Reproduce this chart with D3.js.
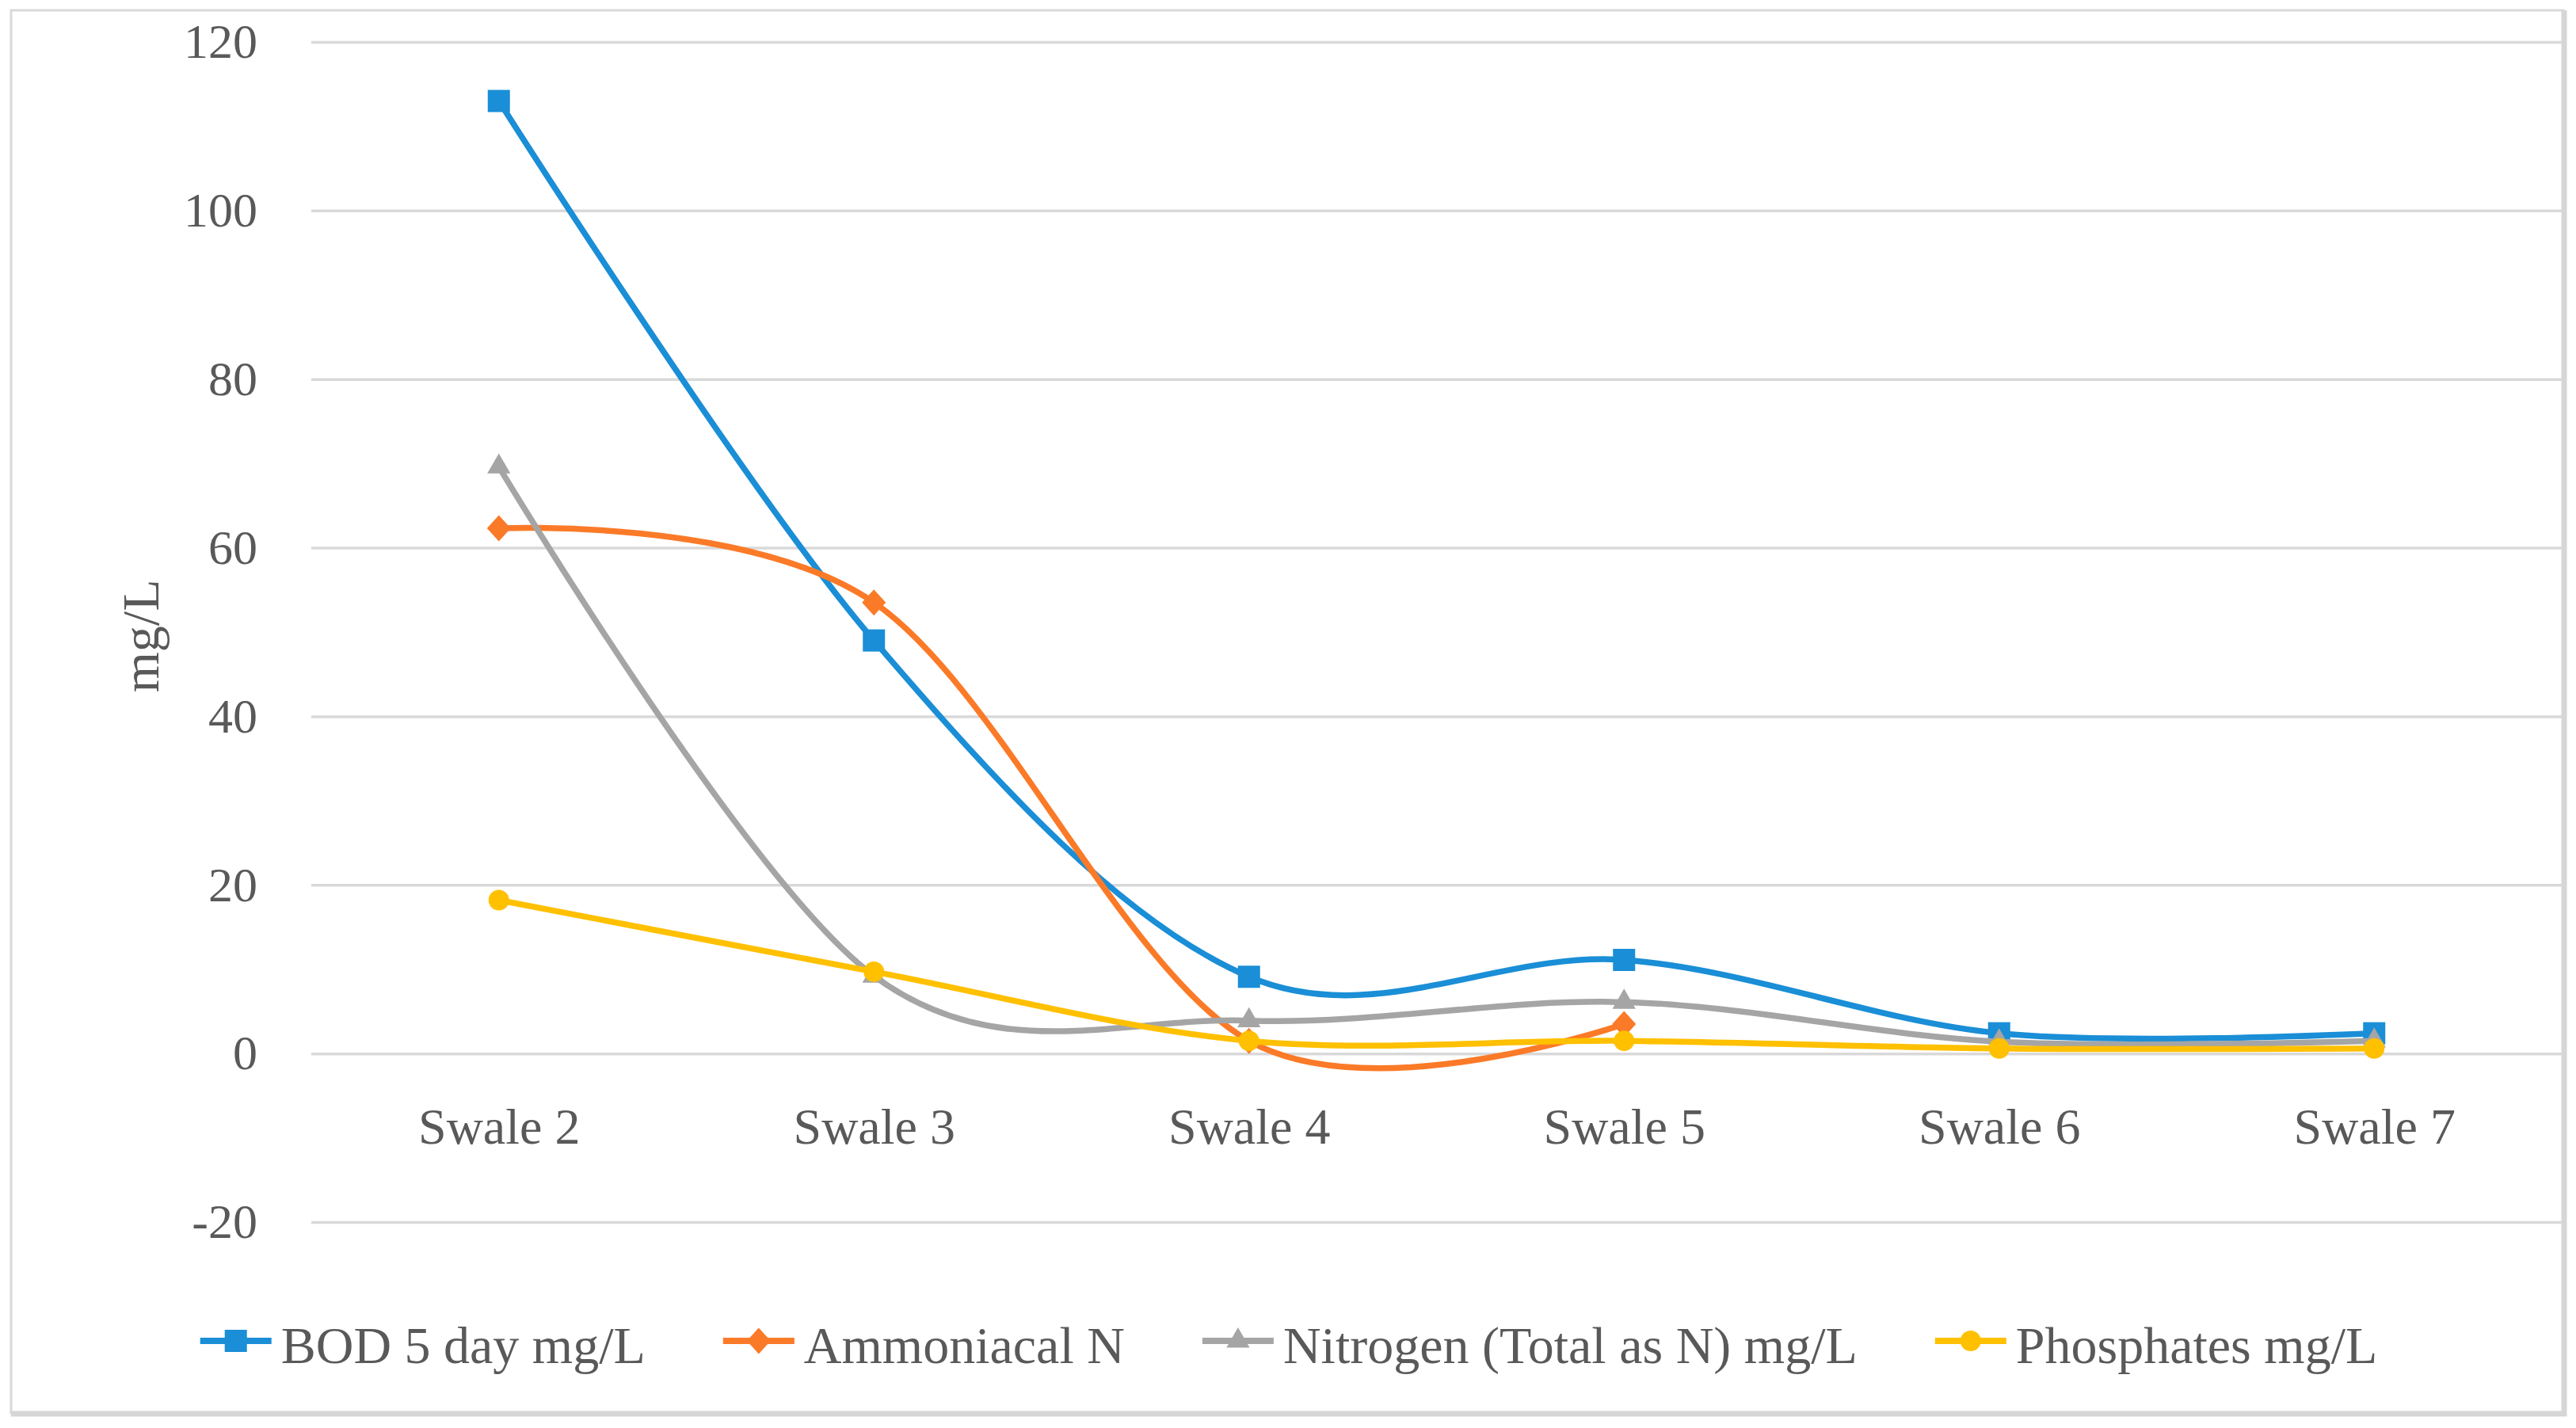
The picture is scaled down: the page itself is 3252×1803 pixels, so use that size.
<html>
  <head>
	<title>Swale water quality</title>
	<script src="https://cdn.jsdelivr.net/npm/d3@7/dist/d3.min.js" type="text/javascript" charset="utf-8"></script>
	<style>
	  body { margin: 0; background: #fff; }
	  text { font-family: "Liberation Serif", "DejaVu Serif", serif; fill: #595959; }
	</style>
  </head>
  <body>
	<svg></svg>
  </body>
  <script type="text/javascript">
	var categories = ['Swale 2', 'Swale 3', 'Swale 4', 'Swale 5', 'Swale 6', 'Swale 7'];
	var bod = [113, 49, 9.1, 11.1, 2.4, 2.4];
	var ammoniacal = [62.3, 53.5, 1.5, 3.5, null, null];
	var nitrogen = [69.6, 9.2, 3.9, 6.1, 1.4, 1.5];
	var phosphates = [18.2, 9.7, 1.5, 1.5, 0.6, 0.6];
	var seriesNames = ['BOD 5 day mg/L', 'Ammoniacal N', 'Nitrogen (Total as N) mg/L', 'Phosphates mg/L'];
	var yTicks = [-20, 0, 20, 40, 60, 80, 100, 120];

	(function() {
	  var W = 3252, H = 1803,
		  left = 393, right = 3234, top = 53, bottom = 1543;

	  var svg = d3.select('svg')
				.attr('width', W)
				.attr('height', H);

	  // chart area frame (light, heavier on right/bottom)
	  svg.append('rect')
		 .attr('x', 14).attr('y', 13)
		 .attr('width', 3222).attr('height', 1771)
		 .attr('fill', '#fff')
		 .attr('stroke', '#d9d9d9')
		 .attr('stroke-width', 3);
	  svg.append('path')
		 .attr('d', 'M3237,13V1785H14')
		 .attr('fill', 'none')
		 .attr('stroke', '#d6d6d6')
		 .attr('stroke-width', 7);

	  var x = d3.scalePoint().domain(categories).range([left, right]).padding(0.5);
	  var y = d3.scaleLinear().domain([-20, 120]).range([bottom, top]);

	  // y axis with gridlines
	  var yAxis = svg.append('g')
		 .attr('transform', 'translate(' + left + ',0)')
		 .call(d3.axisLeft(y)
				 .tickValues(yTicks)
				 .tickFormat(function(d) { return String(d); })
				 .tickSize(-(right - left))
				 .tickPadding(68));
	  yAxis.select('.domain').remove();
	  yAxis.selectAll('line').attr('stroke', '#d9d9d9').attr('stroke-width', 3.5);
	  yAxis.selectAll('text')
		 .attr('font-size', 62)
		 .style('font-family', '"Liberation Serif", serif')
		 .attr('fill', '#595959');

	  // category labels
	  var xAxis = svg.append('g')
		 .attr('transform', 'translate(0,' + y(0) + ')')
		 .call(d3.axisBottom(x).tickSize(0).tickPadding(68));
	  xAxis.select('.domain').remove();
	  xAxis.selectAll('text')
		 .attr('font-size', 64)
		 .style('font-family', '"Liberation Serif", serif')
		 .attr('fill', '#595959');

	  svg.append('text')
		 .attr('transform', 'translate(200,803) rotate(-90)')
		 .attr('text-anchor', 'middle')
		 .attr('font-size', 66)
		 .text('mg/L');

	  var diamond = {
		draw: function(ctx, size) {
		  var r = Math.sqrt(size) / 2;
		  ctx.moveTo(0, -r * 1.1);
		  ctx.lineTo(r, 0);
		  ctx.lineTo(0, r * 1.1);
		  ctx.lineTo(-r, 0);
		  ctx.closePath();
		}
	  };

	  var series = [
		{name: seriesNames[0], values: bod, color: '#1a8ed6', symbol: d3.symbolSquare, size: 784},
		{name: seriesNames[1], values: ammoniacal, color: '#fb7a28', symbol: diamond, size: 900},
		{name: seriesNames[2], values: nitrogen, color: '#a5a5a5', symbol: d3.symbolTriangle, size: 370},
		{name: seriesNames[3], values: phosphates, color: '#ffc000', symbol: d3.symbolCircle, size: 530}
	  ];

	  var line = d3.line()
		 .defined(function(d) { return d != null; })
		 .x(function(d, i) { return x(categories[i]); })
		 .y(function(d) { return y(d); })
		 .curve(d3.curveCatmullRom.alpha(0));

	  var plot = svg.append('g');
	  series.forEach(function(s) {
		var g = plot.append('g');
		g.append('path')
		 .attr('d', line(s.values))
		 .attr('fill', 'none')
		 .attr('stroke', s.color)
		 .attr('stroke-width', 7.5)
		 .attr('stroke-linejoin', 'round');
		g.selectAll('.marker')
		 .data(s.values.map(function(v, i) { return {v: v, c: categories[i]}; })
					   .filter(function(d) { return d.v != null; }))
		 .enter()
		 .append('path')
		 .attr('class', 'marker')
		 .attr('transform', function(d) { return 'translate(' + x(d.c) + ',' + y(d.v) + ')'; })
		 .attr('d', d3.symbol().type(s.symbol).size(s.size))
		 .attr('fill', s.color);
	  });

	  // legend, centred under the chart area
	  var legend = svg.append('g');
	  var items = legend.selectAll('.item')
		 .data(series)
		 .enter()
		 .append('g')
		 .attr('class', 'item');
	  items.append('line')
		 .attr('x1', 0).attr('x2', 90)
		 .attr('y1', 0).attr('y2', 0)
		 .attr('stroke', function(d) { return d.color; })
		 .attr('stroke-width', 8);
	  items.append('path')
		 .attr('transform', 'translate(45,0)')
		 .attr('d', function(d) { return d3.symbol().type(d.symbol).size(d.size)(); })
		 .attr('fill', function(d) { return d.color; });
	  items.append('text')
		 .attr('x', 102)
		 .attr('y', 28)
		 .attr('font-size', 66)
		 .text(function(d) { return d.name; });

	  var pos = 0, gap = 98, offsets = [];
	  items.each(function() {
		offsets.push(pos);
		pos += this.getBBox().width + gap;
	  });
	  var total = pos - gap, start = 1627 - total / 2;
	  items.attr('transform', function(d, i) { return 'translate(' + (start + offsets[i]) + ',1693)'; });
	})();
  </script>
</html>
